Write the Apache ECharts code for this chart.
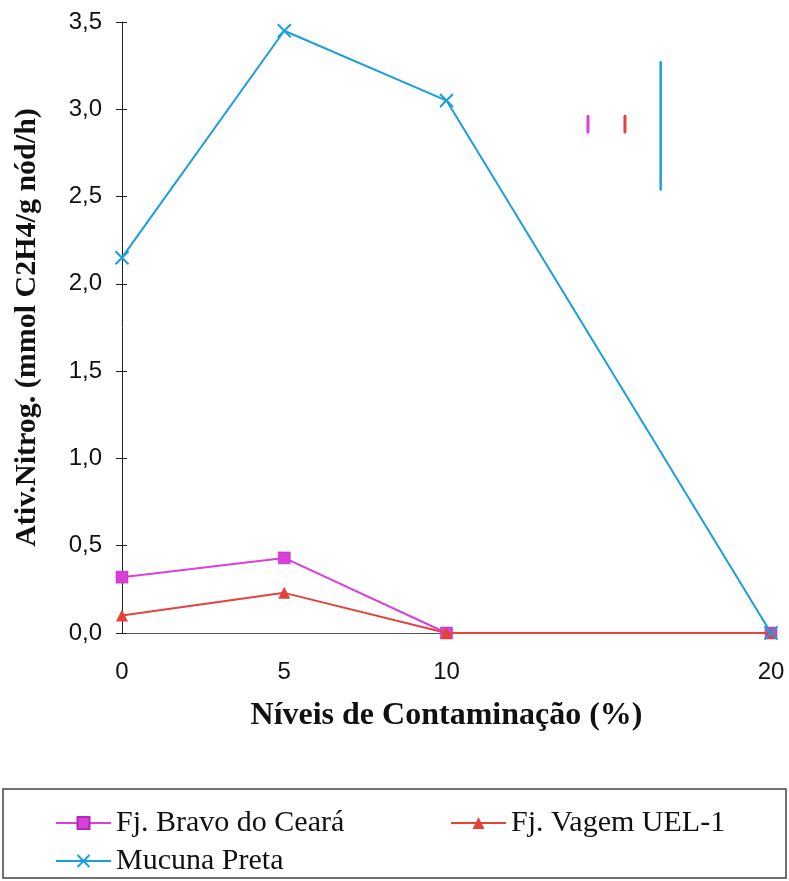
<!DOCTYPE html>
<html>
<head>
<meta charset="utf-8">
<script src="https://cdn.jsdelivr.net/npm/echarts@6/dist/echarts.min.js"></script>
<style>
  html, body { margin: 0; padding: 0; background: #fff; }
  #chart { width: 789px; height: 881px; }
</style>
</head>
<body>
<div id="chart"></div>
<script>
// Contamination levels (%) and nitrogenase activity per cultivar
const levels = [0, 5, 10, 20];
const bravoCeara = [0.32, 0.43, 0.0, 0.0];
const vagemUel1 = [0.10, 0.23, 0.0, 0.0];
const mucunaPreta = [2.15, 3.45, 3.05, 0.0];

const seriesNames = ['Fj. Bravo do Ceará', 'Fj. Vagem UEL-1', 'Mucuna Preta'];
const xTickLabels = [0, 5, 10, 20];

// Short vertical bars drawn in the upper right of the plot
const barX = [14.36, 15.5, 16.6];
const barLow = [2.87, 2.87, 2.54];
const barHigh = [2.96, 2.96, 3.27];

const MAGENTA = '#DA3FDA';
const RED = '#E5423C';
const BLUE = '#1B9FDB';
const SERIF = '"Liberation Serif", "Times New Roman", serif';
const SANS = '"Liberation Sans", Arial, sans-serif';

const pairs = vals => levels.map((x, i) => [x, vals[i]]);

const chart = echarts.init(document.getElementById('chart'), null, { renderer: 'canvas' });

const barColors = [MAGENTA, RED, BLUE];
const barWidths = [3, 3, 2.5];
const barSeries = barX.map((x, i) => ({
  type: 'line',
  name: 'bar' + i,
  data: [[x, barLow[i]], [x, barHigh[i]]],
  symbol: 'none',
  silent: true,
  lineStyle: { color: barColors[i], width: barWidths[i], cap: 'round' },
  z: 1
}));

const legendText = { fontFamily: SERIF, fontSize: 30, lineHeight: 30, color: '#111' };
const legendBase = { itemWidth: 55, itemHeight: 15, itemGap: 0, padding: 0, textStyle: legendText };

chart.setOption({
  animation: false,
  backgroundColor: '#fff',
  grid: { left: 122, right: 18, top: 22, bottom: 248, containLabel: false, outerBoundsMode: 'none' },
  xAxis: {
    type: 'value',
    min: 0,
    max: 20,
    interval: 5,
    axisLine: { show: true, lineStyle: { color: '#555', width: 1 } },
    axisTick: { show: false },
    splitLine: { show: false },
    axisLabel: {
      fontFamily: SANS,
      fontSize: 24,
      color: '#111',
      margin: 27,
      formatter: v => (xTickLabels.indexOf(v) >= 0 ? String(v) : '')
    },
    name: 'Níveis de Contaminação (%)',
    nameLocation: 'middle',
    nameGap: 67,
    nameTextStyle: { fontFamily: SERIF, fontSize: 32, fontWeight: 'bold', color: '#111' }
  },
  yAxis: [{
    type: 'value',
    min: 0,
    max: 3.5,
    interval: 0.5,
    axisLine: { show: true, lineStyle: { color: '#222', width: 1 } },
    axisTick: { show: true, length: 6, lineStyle: { color: '#222' } },
    splitLine: { show: false },
    axisLabel: {
      fontFamily: SANS,
      fontSize: 24,
      color: '#111',
      margin: 20,
      formatter: v => v.toFixed(1).replace('.', ',')
    },
    name: 'Ativ.Nitrog. (mmol C2H4/g nód/h)',
    nameLocation: 'middle',
    nameGap: 80,
    nameRotate: 90,
    nameTextStyle: { fontFamily: SERIF, fontSize: 30, fontWeight: 'bold', color: '#111' }
  }, {
    // inner half of the crossing tick marks
    type: 'value',
    min: 0,
    max: 3.5,
    interval: 0.5,
    position: 'left',
    axisLine: { show: false },
    axisTick: { show: true, inside: true, length: 5, lineStyle: { color: '#222' } },
    axisLabel: { show: false },
    splitLine: { show: false }
  }],
  legend: [
    Object.assign({ data: [seriesNames[0]], left: 55, top: 808 }, legendBase),
    Object.assign({ data: [seriesNames[1]], left: 450, top: 808 }, legendBase),
    Object.assign({ data: [seriesNames[2]], left: 55, top: 846 }, legendBase)
  ],
  graphic: [{
    type: 'rect',
    shape: { x: 3, y: 789, width: 783, height: 89 },
    style: { fill: 'none', stroke: '#444', lineWidth: 1.5 },
    silent: true
  }],
  series: [
    ...barSeries,
    {
      type: 'line',
      name: seriesNames[0],
      data: pairs(bravoCeara),
      symbol: 'rect',
      symbolSize: 12,
      itemStyle: { color: MAGENTA, borderColor: '#B02AB0', borderWidth: 0.5 },
      lineStyle: { color: MAGENTA, width: 2 },
      z: 3
    },
    {
      type: 'line',
      name: seriesNames[1],
      data: pairs(vagemUel1),
      symbol: 'triangle',
      symbolSize: 12,
      itemStyle: { color: RED },
      lineStyle: { color: RED, width: 2 },
      z: 4
    },
    {
      type: 'line',
      name: seriesNames[2],
      data: pairs(mucunaPreta),
      symbol: 'path://M0,0L10,10M10,0L0,10',
      symbolSize: 13,
      itemStyle: { color: 'rgba(0,0,0,0)', borderColor: BLUE, borderWidth: 2 },
      lineStyle: { color: BLUE, width: 2 },
      z: 5
    }
  ]
});
</script>
</body>
</html>
